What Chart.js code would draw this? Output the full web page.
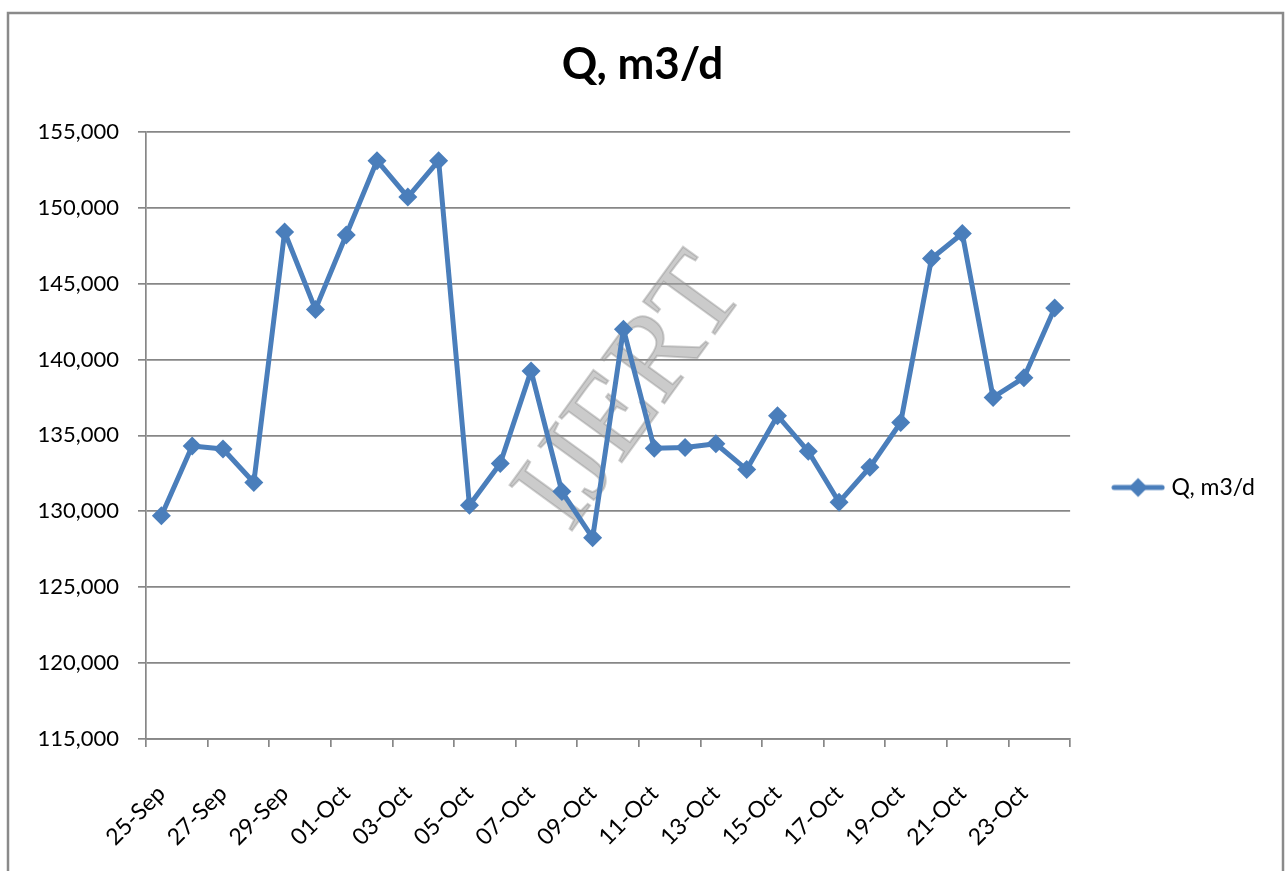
<!DOCTYPE html>
<html lang="en">

<head>
    <meta charset="UTF-8">
    <script src="https://cdn.jsdelivr.net/npm/chart.js"></script>
    <title>Q, m3/d</title>
    <style>
        body {
            margin: 0;
            background: #fff;
            overflow: hidden;
        }

        .box {
            width: 1285px;
            height: 975px;
        }
    </style>
</head>

<body>
    <div class="box">
        <canvas id="grafico"></canvas>
    </div>
</body>

</html>

<script>
    // dias (25-Sep ate 24-Oct)
    const dias = ['25-Sep', '26-Sep', '27-Sep', '28-Sep', '29-Sep', '30-Sep',
        '01-Oct', '02-Oct', '03-Oct', '04-Oct', '05-Oct', '06-Oct', '07-Oct', '08-Oct',
        '09-Oct', '10-Oct', '11-Oct', '12-Oct', '13-Oct', '14-Oct', '15-Oct', '16-Oct',
        '17-Oct', '18-Oct', '19-Oct', '20-Oct', '21-Oct', '22-Oct', '23-Oct', '24-Oct'];

    // vazao diaria, m3/d
    const vazao = [129700, 134300, 134100, 131900, 148400, 143300,
        148200, 153100, 150700, 153100, 130400, 133150, 139250, 131300,
        128250, 142000, 134150, 134200, 134450, 132750, 136300, 133950,
        130600, 132900, 135850, 146650, 148300, 137500, 138800, 143400];

    const nomeSerie = 'Q, m3/d';
    const eixoY = { min: 115000, max: 155000, passo: 5000 };

    const azul = '#4a7ebb';
    const cinza = '#878787';
    const fonte = 'Lato, "Open Sans", sans-serif';
    const margem = 20;

    // simbolo da legenda: linha com losango
    const simbolo = document.createElement('canvas');
    simbolo.width = 54;
    simbolo.height = 22;
    (function () {
        const c = simbolo.getContext('2d');
        c.strokeStyle = azul;
        c.lineWidth = 5;
        c.lineCap = 'round';
        c.beginPath();
        c.moveTo(3, 11);
        c.lineTo(51, 11);
        c.stroke();
        c.fillStyle = azul;
        c.beginPath();
        c.moveTo(27, 1.5);
        c.lineTo(36.5, 11);
        c.lineTo(27, 20.5);
        c.lineTo(17.5, 11);
        c.closePath();
        c.fill();
    })();

    // moldura cinza do grafico + fundo branco
    const moldura = {
        id: 'moldura',
        beforeDraw(chart) {
            const c = chart.ctx;
            c.save();
            c.fillStyle = '#fff';
            c.fillRect(0, 0, chart.width, chart.height);
            c.strokeStyle = '#8a8a8a';
            c.lineWidth = 2.5;
            c.strokeRect(8, 13, 1275, 1100);
            c.restore();
        }
    };

    // marca d'agua
    const marcaDagua = {
        id: 'marcaDagua',
        beforeDatasetsDraw(chart) {
            const c = chart.ctx;
            c.save();
            c.translate(633, 394);
            c.rotate(-54 * Math.PI / 180);
            c.font = '118px "Liberation Serif", serif';
            c.textAlign = 'center';
            c.textBaseline = 'middle';
            c.fillStyle = 'rgba(160,160,160,0.55)';
            c.strokeStyle = 'rgba(140,140,140,0.4)';
            c.lineWidth = 2;
            c.fillText('IJERT', 0, 0);
            c.strokeText('IJERT', 0, 0);
            c.restore();
        }
    };

    let myChart = new Chart(document.getElementById('grafico'), {
        type: 'line',
        data: {
            labels: dias,
            datasets: [{
                label: nomeSerie,
                data: vazao,
                borderColor: azul,
                backgroundColor: azul,
                borderWidth: 5,
                borderJoinStyle: 'round',
                borderCapStyle: 'round',
                pointStyle: 'rectRot',
                pointRadius: 9.5,
                pointBorderWidth: 0,
                pointBackgroundColor: azul,
                pointHoverRadius: 9.5,
                tension: 0,
                fill: false
            }]
        },
        options: {
            responsive: true,
            maintainAspectRatio: false,
            animation: false,
            events: [],
            layout: { padding: { left: margem, right: margem, top: 0, bottom: 0 } },
            plugins: {
                title: {
                    display: true,
                    text: nomeSerie,
                    color: '#000',
                    font: { family: fonte, size: 44, weight: 'bold' },
                    padding: { top: 38, bottom: 41 }
                },
                legend: {
                    position: 'right',
                    labels: {
                        usePointStyle: true,
                        pointStyle: simbolo,
                        pointStyleWidth: 44,
                        padding: 46,
                        color: '#000',
                        font: { family: fonte, size: 23 }
                    }
                },
                tooltip: { enabled: false }
            },
            scales: {
                x: {
                    offset: true,
                    afterFit: function (scale) { scale.height = 975 - 739; },
                    grid: {
                        offset: true,
                        drawOnChartArea: false,
                        drawTicks: true,
                        tickLength: 8,
                        lineWidth: 1.7,
                        color: function (ctx) {
                            return (ctx.index === undefined || ctx.index % 2 === 0) ? cinza : 'rgba(0,0,0,0)';
                        }
                    },
                    border: { display: true, color: cinza, width: 1.7 },
                    ticks: {
                        autoSkip: false,
                        maxRotation: 45,
                        minRotation: 45,
                        padding: 33,
                        color: '#000',
                        font: { family: fonte, size: 23 },
                        callback: function (v, i) { return i % 2 === 0 ? dias[i] : ''; }
                    }
                },
                y: {
                    min: eixoY.min,
                    max: eixoY.max,
                    afterFit: function (scale) { scale.width = 146 - margem; },
                    grid: { color: cinza, lineWidth: 1.7, tickLength: 8 },
                    border: { display: true, color: cinza, width: 1.7 },
                    ticks: {
                        stepSize: eixoY.passo,
                        padding: 19,
                        color: '#000',
                        font: { family: fonte, size: 22 },
                        callback: function (v) { return v.toLocaleString('en-US'); }
                    }
                }
            }
        },
        plugins: [moldura, marcaDagua]
    });
</script>
